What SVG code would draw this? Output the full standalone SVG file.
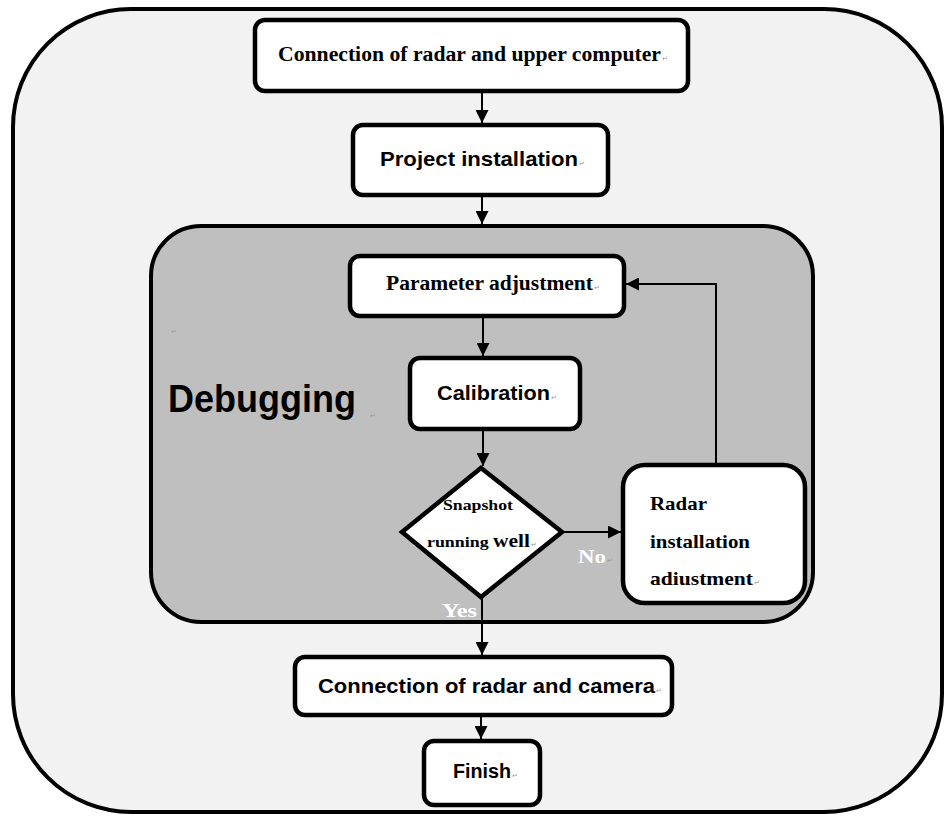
<svg xmlns="http://www.w3.org/2000/svg" width="944" height="816" viewBox="0 0 944 816">
<defs>
<style>
.box{fill:#fff;stroke:#000;stroke-width:4.5}
.serif{font-family:"Liberation Serif","Times New Roman",serif;font-weight:bold;fill:#000}
.sans{font-family:"Liberation Sans",Arial,sans-serif;font-weight:bold;fill:#000}
.ln{fill:none;stroke:#000;stroke-width:2}
.mk{font-family:"DejaVu Sans",sans-serif;font-size:7px;fill:#999}
.wt{font-family:"Liberation Serif","Times New Roman",serif;font-weight:bold;fill:#fff}
</style>
<marker id="ah2" viewBox="0 0 10 10" refX="10" refY="5" markerWidth="14" markerHeight="13" orient="auto" markerUnits="userSpaceOnUse">
<path d="M0,0 L10,5 L0,10 z" fill="#000"/>
</marker>
</defs>
<rect width="944" height="816" fill="#fff"/>
<g id="outer">
<rect x="13" y="9" width="929" height="803" rx="118" ry="118" fill="#f2f2f2" stroke="#000" stroke-width="4"/>
</g>
<g id="debugging">
<rect x="151" y="226" width="662" height="396" rx="50" ry="50" fill="#bfbfbf" stroke="#000" stroke-width="4"/>
<text class="sans" x="168" y="412" font-size="38" textLength="188" lengthAdjust="spacingAndGlyphs">Debugging</text>
<text class="mk" x="370" y="418">↵</text>
<text class="mk" x="171" y="334">↵</text>
</g>
<g id="connectors">
<line class="ln" x1="482" y1="91" x2="482" y2="123" marker-end="url(#ah2)"/>
<line class="ln" x1="482" y1="195" x2="482" y2="224" marker-end="url(#ah2)"/>
<line class="ln" x1="483" y1="316" x2="483" y2="356" marker-end="url(#ah2)"/>
<line class="ln" x1="483" y1="429" x2="483" y2="466" marker-end="url(#ah2)"/>
<line class="ln" x1="562" y1="532" x2="621" y2="532" marker-end="url(#ah2)"/>
<polyline class="ln" points="716,465 716,284 626,284" marker-end="url(#ah2)"/>
<line class="ln" x1="482" y1="597" x2="482" y2="655" marker-end="url(#ah2)"/>
<line class="ln" x1="481" y1="715" x2="481" y2="739" marker-end="url(#ah2)"/>
</g>
<g id="n1">
<rect class="box" x="255" y="20" width="433" height="71" rx="10"/>
<text class="serif" x="278" y="61" font-size="20" textLength="383" lengthAdjust="spacingAndGlyphs">Connection of radar and upper computer</text>
<text class="mk" x="662" y="61">↵</text>
</g>
<g id="n2">
<rect class="box" x="353" y="125" width="255" height="70" rx="10"/>
<text class="sans" x="380" y="166" font-size="21" textLength="198" lengthAdjust="spacingAndGlyphs">Project installation</text>
<text class="mk" x="579" y="166">↵</text>
</g>
<g id="n3">
<rect class="box" x="350" y="256" width="274" height="60" rx="10"/>
<text class="serif" x="386" y="290" font-size="20" textLength="207" lengthAdjust="spacingAndGlyphs">Parameter adjustment</text>
<text class="mk" x="594" y="290">↵</text>
</g>
<g id="n4">
<rect class="box" x="410" y="358" width="170" height="71" rx="10"/>
<text class="sans" x="437" y="400" font-size="20" textLength="113" lengthAdjust="spacingAndGlyphs">Calibration</text>
<text class="mk" x="551" y="400">↵</text>
</g>
<g id="n5">
<polygon points="481,468 562,532 481,597 402,532" fill="#fff" stroke="#000" stroke-width="4.5" stroke-linejoin="miter"/>
<text class="serif" x="443" y="510" font-size="15" textLength="70" lengthAdjust="spacingAndGlyphs">Snapshot</text>
<text class="serif" x="427" y="547" font-size="15" textLength="103" lengthAdjust="spacingAndGlyphs">running <tspan font-size="18">well</tspan></text>
<text class="mk" x="531" y="547">↵</text>
<text class="wt" x="578" y="563" font-size="19" textLength="28" lengthAdjust="spacingAndGlyphs">No</text>
<text class="mk" x="607" y="563">↵</text>
<text class="wt" x="442" y="617" font-size="19" textLength="35" lengthAdjust="spacingAndGlyphs">Yes</text>
</g>
<g id="n6">
<rect class="box" x="623" y="465" width="182" height="138" rx="22"/>
<text class="serif" x="650" y="510" font-size="19" textLength="57" lengthAdjust="spacingAndGlyphs">Radar</text>
<text class="serif" x="650" y="548" font-size="19" textLength="100" lengthAdjust="spacingAndGlyphs">installation</text>
<text class="serif" x="650" y="585" font-size="19" textLength="103" lengthAdjust="spacingAndGlyphs">adiustment</text>
<text class="mk" x="754" y="585">↵</text>
</g>
<g id="n7">
<rect class="box" x="295" y="657" width="377" height="58" rx="10"/>
<text class="sans" x="318" y="693" font-size="20" textLength="337" lengthAdjust="spacingAndGlyphs">Connection of radar and camera</text>
<text class="mk" x="656" y="693">↵</text>
</g>
<g id="n8">
<rect class="box" x="424" y="741" width="116" height="64" rx="10"/>
<text class="sans" x="453" y="778" font-size="20" textLength="58" lengthAdjust="spacingAndGlyphs">Finish</text>
<text class="mk" x="512" y="778">↵</text>
</g>
</svg>
